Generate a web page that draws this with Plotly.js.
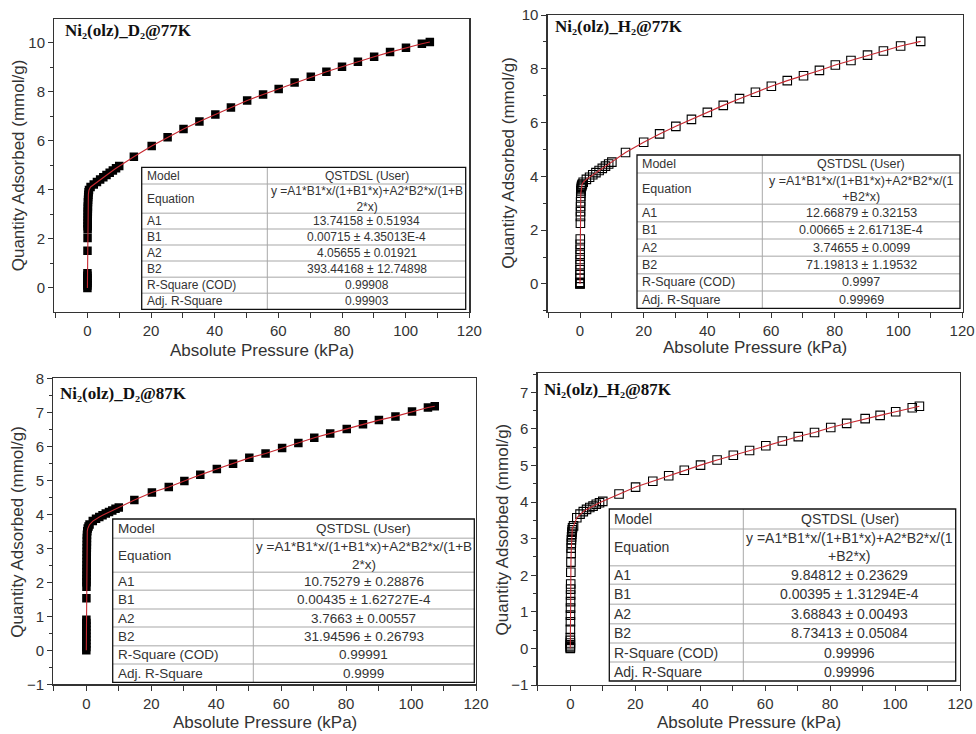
<!DOCTYPE html>
<html>
<head>
<meta charset="utf-8">
<script src="https://cdn.plot.ly/plotly-3.0.1.min.js"></script>
<style>html,body{margin:0;padding:0;background:#fff;}#chart{width:976px;height:734px;}</style>
</head>
<body>
<div id="chart"></div>
<script>
// ---------------- DATA ----------------
const panelTitles = [
  'Ni₂(olz)_D₂@77K',
  'Ni₂(olz)_H₂@77K',
  'Ni₂(olz)_D₂@87K',
  'Ni₂(olz)_H₂@87K'
];
const xTitle = 'Absolute Pressure (kPa)';
const yTitle = 'Quantity Adsorbed (mmol/g)';

// D2 @ 77K
const xD2_77 = [0.002,0.004,0.006,0.008,0.010,0.012,0.014,0.03,0.05,0.07,0.08,0.09,0.10,0.11,0.12,0.13,0.14,0.15,0.18,0.21,0.25,0.3,0.38,0.5,1,2,3,4,5,6,7,8,9,10,14.6,20.2,25.2,30.2,35.2,40.2,45.1,50.2,55.2,60.1,65.1,70.2,75.1,80.0,85.0,90.1,95.1,100.1,105.1,107.6];
const yD2_77 = [0.0,0.1,0.2,0.3,0.4,0.5,0.6,1.52,2.04,2.4,2.52,2.64,2.76,2.88,3.0,3.12,3.24,3.32,3.5,3.6,3.7,3.8,3.9,4.0,4.12,4.22,4.32,4.42,4.52,4.61,4.70,4.79,4.88,4.97,5.35,5.79,6.15,6.48,6.79,7.08,7.36,7.65,7.89,8.12,8.38,8.61,8.82,9.02,9.23,9.43,9.62,9.80,9.96,10.03];

// H2 @ 77K
const xH2_77 = [0.001,0.002,0.003,0.004,0.005,0.01,0.015,0.02,0.03,0.04,0.05,0.06,0.07,0.08,0.12,0.14,0.16,0.18,0.2,0.23,0.26,0.3,0.35,0.4,0.5,0.6,0.75,1,2,3,4,5,6,7,8,9,10,14.3,20.0,25.0,30.1,35.0,40.0,45.0,50.1,55.1,60.1,65.1,70.2,75.2,80.2,85.1,90.3,95.3,100.7,107.0];
const yH2_77 = [0.0,0.01,0.02,0.04,0.06,0.21,0.35,0.53,0.72,0.91,1.1,1.29,1.48,1.67,2.26,2.51,2.69,2.88,3.06,3.25,3.38,3.46,3.53,3.59,3.64,3.68,3.72,3.78,3.89,3.97,4.06,4.14,4.22,4.30,4.38,4.46,4.53,4.89,5.27,5.58,5.86,6.12,6.38,6.64,6.89,7.13,7.35,7.56,7.74,7.94,8.14,8.31,8.51,8.66,8.85,9.02];

// D2 @ 87K
const xD2_87 = [0.002,0.004,0.006,0.008,0.010,0.012,0.014,0.016,0.018,0.02,0.04,0.05,0.06,0.07,0.08,0.09,0.10,0.11,0.12,0.13,0.14,0.15,0.16,0.17,0.18,0.19,0.2,0.3,0.45,0.7,1,2,3,4,5,6,7,8,9,10,14.8,20.2,25.4,30.2,35.1,40.2,45.2,50.2,55.2,60.3,65.3,70.2,75.1,80.2,85.2,90.1,95.2,100.3,105.2,107.3];
const yD2_87 = [0.0,0.1,0.2,0.3,0.4,0.5,0.6,0.7,0.8,0.9,1.53,1.87,2.0,2.1,2.2,2.3,2.4,2.5,2.6,2.7,2.8,2.9,3.0,3.1,3.2,3.3,3.4,3.5,3.58,3.64,3.70,3.80,3.87,3.92,3.97,4.02,4.07,4.11,4.16,4.20,4.42,4.64,4.80,4.98,5.16,5.33,5.49,5.66,5.79,5.95,6.10,6.25,6.38,6.51,6.65,6.77,6.88,7.02,7.14,7.18];

// H2 @ 87K
const xH2_87 = [0.001,0.002,0.003,0.005,0.007,0.01,0.014,0.025,0.04,0.05,0.065,0.08,0.095,0.11,0.125,0.16,0.2,0.25,0.28,0.31,0.35,0.4,0.45,0.5,0.6,0.7,1,2,3,4,5,6,7,8,9,10,15.0,20.1,25.4,30.3,35.1,40.1,45.2,50.2,55.2,60.2,65.3,70.2,75.2,80.2,85.1,90.8,95.4,100.2,105.3,107.5];
const yH2_87 = [0.0,0.02,0.05,0.1,0.15,0.22,0.3,0.52,0.73,0.91,1.1,1.28,1.46,1.62,1.76,2.08,2.36,2.6,2.74,2.87,2.97,3.05,3.12,3.18,3.24,3.3,3.35,3.57,3.67,3.74,3.80,3.85,3.89,3.94,3.98,4.02,4.22,4.41,4.57,4.72,4.87,5.01,5.15,5.28,5.41,5.54,5.67,5.79,5.90,6.04,6.15,6.28,6.37,6.47,6.58,6.62];

// Fit tables
const tableLabels = ['Model','Equation','A1','B1','A2','B2','R-Square (COD)','Adj. R-Square'];
const tableD2_77 = ['QSTDSL (User)','y =A1*B1*x/(1+B1*x)+A2*B2*x/(1+B<br>2*x)','13.74158 ± 0.51934','0.00715 ± 4.35013E-4','4.05655 ± 0.01921','393.44168 ± 12.74898','0.99908','0.99903'];
const tableH2_77 = ['QSTDSL (User)','y =A1*B1*x/(1+B1*x)+A2*B2*x/(1<br>+B2*x)','12.66879 ± 0.32153','0.00665 ± 2.61713E-4','3.74655 ± 0.0099','71.19813 ± 1.19532','0.9997','0.99969'];
const tableD2_87 = ['QSTDSL (User)','y =A1*B1*x/(1+B1*x)+A2*B2*x/(1+B<br>2*x)','10.75279 ± 0.28876','0.00435 ± 1.62727E-4','3.7663 ± 0.00557','31.94596 ± 0.26793','0.99991','0.9999'];
const tableH2_87 = ['QSTDSL (User)','y =A1*B1*x/(1+B1*x)+A2*B2*x/(1<br>+B2*x)','9.84812 ± 0.23629','0.00395 ± 1.31294E-4','3.68843 ± 0.00493','8.73413 ± 0.05084','0.99996','0.99996'];

// ---------------- LAYOUT HELPERS ----------------
const W = 976, H = 734;
const px = v => v / W;
const py = v => 1 - v / H;
const FIT = '#c62830';
const AX = '#333333';
const SANS = 'Liberation Sans, Arial, sans-serif';
const SERIF = 'Liberation Serif, Times New Roman, DejaVu Serif, serif';

const panels = [
  {x:xD2_77, y:yD2_77, filled:true,  dom:[54.3,469.3,19,312],   xr:[-10.4,120], yr:[-0.98,10.97], ydt:2, ymin:1,
   title:[62.7,30.7], xt:[262.3,350], yt:[18,165.3], tab:tableD2_77,
   tb:{l:141.7,r:465.7,d:267.3,rows:[167.3,184,213.3,229,245,261,277.3,293.3,309.3],fs:12}},
  {x:xH2_77, y:yH2_77, filled:false, dom:[547.7,962.7,15,311.7], xr:[-10.15,120.2], yr:[-1.03,10], ydt:2, ymin:1,
   title:[552.7,26.7], xt:[754.7,347.7], yt:[508.3,162.5], tab:tableH2_77,
   tb:{l:637,r:960,d:762.3,rows:[155,173,204.3,221.7,239,256.3,273.7,291,308.3],fs:12.5}},
  {x:xD2_87, y:yD2_87, filled:true,  dom:[53.3,476,378.3,684.3], xr:[-10.16,120], yr:[-1,8], ydt:1, ymin:0.5,
   title:[58.3,393.3], xt:[265.3,722], yt:[18,531.7], tab:tableD2_87,
   tb:{l:112.7,r:474.3,d:253.3,rows:[519,538.3,572.3,590.3,609,627,645.7,664,682.3],fs:13.5}},
  {x:xH2_87, y:yH2_87, filled:false, dom:[537.7,960,373.3,685],   xr:[-10.04,120], yr:[-1,7.52], ydt:1, ymin:0.5,
   title:[541.7,389], xt:[749.2,722], yt:[502.2,529.2], tab:tableH2_87,
   tb:{l:609.3,r:955.7,d:743.3,rows:[509,529,565.7,584.3,604.3,623.7,643,662,681],fs:14}}
];

const data = [];
const layout = {
  width: W, height: H,
  margin: {l:0, r:0, t:0, b:0},
  paper_bgcolor: '#fff', plot_bgcolor: 'rgba(0,0,0,0)',
  showlegend: false,
  shapes: [], annotations: []
};

panels.forEach((p, i) => {
  const n = i === 0 ? '' : String(i + 1);
  const xa = 'x' + n, ya = 'y' + n;
  data.push({
    type: 'scatter', mode: 'markers', x: p.x, y: p.y, xaxis: xa, yaxis: ya,
    marker: p.filled
      ? {symbol: 'square', size: 8.5, color: '#000'}
      : {symbol: 'square-open', size: 8.5, color: '#000', line: {width: 1.1, color: '#000'}},
    hoverinfo: 'x+y'
  });
  data.push({
    type: 'scatter', mode: 'lines', x: p.x, y: p.y, xaxis: xa, yaxis: ya,
    line: {color: FIT, width: 1.1}, hoverinfo: 'skip'
  });
  layout['xaxis' + n] = {
    domain: [px(p.dom[0]), px(p.dom[1])], range: p.xr, anchor: ya,
    showgrid: false, zeroline: false, showline: true, mirror: true,
    linecolor: AX, linewidth: 1.3,
    ticks: 'outside', ticklen: 5, tickcolor: AX, tickwidth: 1,
    tick0: 0, dtick: 20,
    minor: {dtick: 10, tick0: 0, ticks: 'outside', ticklen: 5, tickcolor: AX, showgrid: false},
    tickfont: {family: SANS, size: 15, color: '#333'}
  };
  layout['yaxis' + n] = {
    domain: [py(p.dom[3]), py(p.dom[2])], range: p.yr, anchor: xa,
    showgrid: false, zeroline: false, showline: true, mirror: true,
    linecolor: AX, linewidth: 1.3,
    ticks: 'outside', ticklen: 5, tickcolor: AX, tickwidth: 1,
    tick0: 0, dtick: p.ydt,
    minor: {dtick: p.ymin, tick0: 0, ticks: 'outside', ticklen: 3, tickcolor: AX, showgrid: false},
    tickfont: {family: SANS, size: 15, color: '#333'}
  };
  layout.annotations.push({
    xref: 'paper', yref: 'paper', x: px(p.title[0]), y: py(p.title[1]),
    xanchor: 'left', yanchor: 'middle', showarrow: false,
    text: '<b>' + panelTitles[i] + '</b>',
    font: {family: SERIF, size: 17, color: '#111'}
  });
  layout.annotations.push({
    xref: 'paper', yref: 'paper', x: px(p.xt[0]), y: py(p.xt[1]),
    xanchor: 'center', yanchor: 'middle', showarrow: false,
    text: xTitle, font: {family: SANS, size: 17, color: '#333'}
  });
  layout.annotations.push({
    xref: 'paper', yref: 'paper', x: px(p.yt[0]), y: py(p.yt[1]),
    xanchor: 'center', yanchor: 'middle', showarrow: false, textangle: -90,
    text: yTitle, font: {family: SANS, size: 17, color: '#333'}
  });
  const t = p.tb;
  const top = t.rows[0], bot = t.rows[t.rows.length - 1];
  layout.shapes.push({type: 'rect', xref: 'paper', yref: 'paper',
    x0: px(t.l), x1: px(t.r), y0: py(bot), y1: py(top),
    fillcolor: '#fff', line: {width: 0}, layer: 'above'});
  for (let k = 1; k < t.rows.length - 1; k++) {
    layout.shapes.push({type: 'line', xref: 'paper', yref: 'paper',
      x0: px(t.l), x1: px(t.r), y0: py(t.rows[k]), y1: py(t.rows[k]),
      line: {color: '#c4c4c4', width: 1.6}, layer: 'above'});
  }
  layout.shapes.push({type: 'line', xref: 'paper', yref: 'paper',
    x0: px(t.d), x1: px(t.d), y0: py(bot), y1: py(top),
    line: {color: '#a8a8a8', width: 1}, layer: 'above'});
  layout.shapes.push({type: 'rect', xref: 'paper', yref: 'paper',
    x0: px(t.l), x1: px(t.r), y0: py(bot), y1: py(top),
    fillcolor: 'rgba(0,0,0,0)', line: {color: '#111', width: 1.3}, layer: 'above'});
  tableLabels.forEach((lab, k) => {
    const yc = (t.rows[k] + t.rows[k + 1]) / 2;
    layout.annotations.push({
      xref: 'paper', yref: 'paper', x: px(t.l + 3), y: py(yc),
      xanchor: 'left', yanchor: 'middle', showarrow: false,
      text: lab, font: {family: SANS, size: t.fs, color: '#333'}
    });
    layout.annotations.push({
      xref: 'paper', yref: 'paper', x: px((t.d + t.r) / 2), y: py(yc),
      xanchor: 'center', yanchor: 'middle', showarrow: false, align: 'center',
      text: p.tab[k], font: {family: SANS, size: t.fs, color: '#333'}
    });
  });
});

Plotly.newPlot('chart', data, layout, {displayModeBar: false, staticPlot: true});
</script>
</body>
</html>
